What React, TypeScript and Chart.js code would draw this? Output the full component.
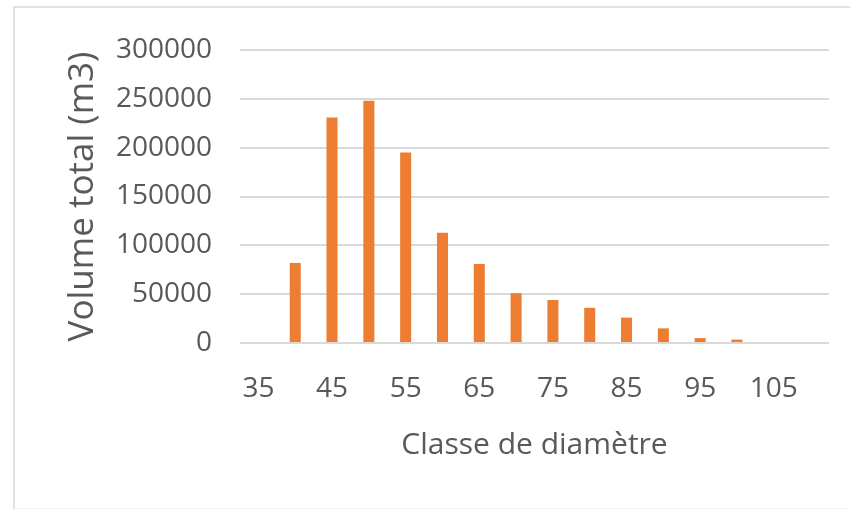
import React, { useEffect, useRef } from "react";
import { Chart, registerables } from "chart.js";

Chart.register(...registerables);

const categories = ["35", "40", "45", "50", "55", "60", "65", "70", "75", "80", "85", "90", "95", "100", "105", "110"];
const volumes = [0, 82000, 231000, 248000, 195000, 113000, 81000, 51000, 44000, 36000, 26000, 15000, 5000, 3500, 0, 0];
const yTicks = [0, 50000, 100000, 150000, 200000, 250000, 300000];

const FONT = "'Open Sans', 'Noto Sans', sans-serif";
const TEXT = "#595959";

export default function App() {
  const ref = useRef<HTMLCanvasElement | null>(null);

  useEffect(() => {
    if (!ref.current) return;
    const chart = new Chart(ref.current, {
      type: "bar",
      data: {
        labels: categories,
        datasets: [
          {
            data: volumes,
            backgroundColor: "#ED7D31",
            borderWidth: 0,
            barPercentage: 0.3,
            categoryPercentage: 1,
          },
        ],
      },
      options: {
        animation: false,
        responsive: false,
        maintainAspectRatio: false,
        layout: { padding: { top: 50, left: 60, right: 21, bottom: 0 } },
        plugins: { legend: { display: false }, tooltip: { enabled: false } },
        scales: {
          x: {
            grid: { display: false, drawTicks: false },
            border: { display: false },
            ticks: {
              autoSkip: false,
              maxRotation: 0,
              padding: 29,
              color: TEXT,
              font: { family: FONT, size: 28 },
              callback: (_v: any, i: number) => (i % 2 === 0 ? categories[i] : ""),
            },
            title: {
              display: true,
              text: "Classe de diamètre",
              color: TEXT,
              font: { family: FONT, size: 30 },
              padding: { top: 0, bottom: 46 },
            },
            afterFit: (s: any) => {
              s.height = 166;
            },
          },
          y: {
            min: 0,
            max: 300000,
            afterBuildTicks: (s: any) => {
              s.ticks = yTicks.map((v) => ({ value: v }));
            },
            grid: { color: "#d9d9d9", lineWidth: 2, drawTicks: false },
            border: { display: false },
            ticks: {
              padding: 28,
              color: TEXT,
              font: { family: FONT, size: 28 },
              callback: (v: any) => String(v),
            },
            title: {
              display: true,
              text: "Volume total (m3)",
              color: TEXT,
              font: { family: FONT, size: 35 },
              padding: { top: 2, bottom: 0 },
            },
            afterFit: (s: any) => {
              s.width = 180;
            },
          },
        },
      },
    });
    return () => chart.destroy();
  }, []);

  return (
    <div style={{ position: "fixed", left: 0, top: 0, width: 850, height: 509, background: "#fff" }}>
      <div
        style={{
          position: "absolute",
          left: 13,
          top: 6,
          width: 850,
          height: 500,
          borderTop: "2px solid #e2e2e2",
          borderLeft: "2px solid #e2e2e2",
          borderBottom: "2px solid #f3f3f3",
        }}
      />
      <canvas ref={ref} width={850} height={509} style={{ position: "absolute", left: 0, top: 0, width: 850, height: 509 }} />
    </div>
  );
}
